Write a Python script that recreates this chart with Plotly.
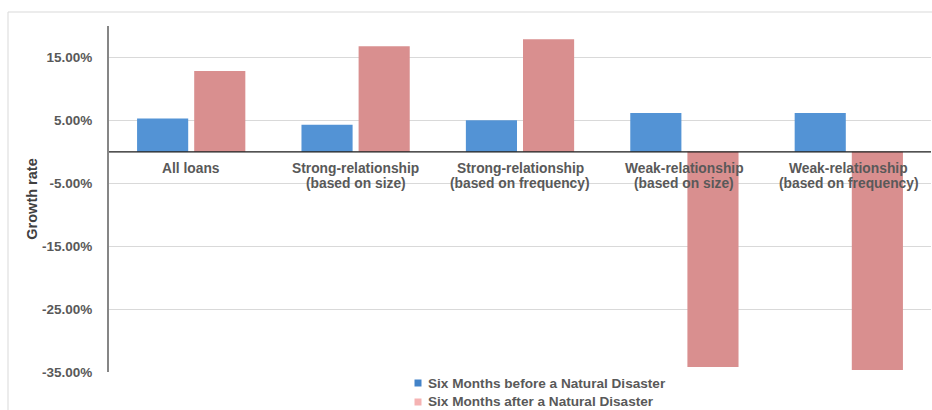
import plotly.graph_objects as go

categories = [
    "All loans",
    "Strong-relationship<br>(based on size)",
    "Strong-relationship<br>(based on frequency)",
    "Weak-relationship<br>(based on size)",
    "Weak-relationship<br>(based on frequency)",
]
before_disaster = [5.28, 4.32, 5.00, 6.17, 6.17]
after_disaster = [12.85, 16.8, 17.9, -34.2, -34.7]
series_names = [
    "Six Months before a Natural Disaster",
    "Six Months after a Natural Disaster",
]
y_ticks = [-35, -25, -15, -5, 5, 15]
y_tick_text = [f"{v:.2f}%" for v in y_ticks]

FONT = "Liberation Sans, Arial, sans-serif"
TEXT = "#595959"
BAR_COLORS = ["#5393d5", "#d98f8f"]
KEY_COLORS = ["#4383c8", "#f5b3b3"]

# plot-area geometry in pixels (used for paper-space placement)
W, H = 932, 410
L, R, T, B = 109, 1, 26, 38
PW, PH = W - L - R, H - T - B


def px_x(px):
    return (px - L) / PW


def px_y(py):
    return (H - B - py) / PH


fig = go.Figure()
for vals, col, name in zip([before_disaster, after_disaster], BAR_COLORS, series_names):
    fig.add_trace(go.Bar(
        x=categories, y=vals, name=name, showlegend=False,
        marker=dict(color=col, line=dict(width=0)),
    ))

# category labels sit just under the zero line, inside the plot;
# each line is placed separately to keep the line spacing tight
for cat in categories:
    for j, line in enumerate(cat.split("<br>")):
        fig.add_annotation(
            x=cat, y=0, xref="x", yref="y", text=line,
            showarrow=False, yanchor="middle", yshift=-16.5 - 15.5 * j,
            font=dict(family=FONT, size=13.8, color=TEXT, weight="bold"),
        )

# key below the plot: small colour square followed by the series name
for i, (name, col) in enumerate(zip(series_names, KEY_COLORS)):
    cy = 383 + 19 * i
    fig.add_shape(type="rect", xref="paper", yref="paper",
                  x0=px_x(414.5), x1=px_x(421.5),
                  y0=px_y(cy - 3.5), y1=px_y(cy + 3.5),
                  fillcolor=col, line=dict(width=0), layer="above")
    fig.add_annotation(
        x=px_x(426.5), y=px_y(cy), xref="paper", yref="paper", text=name,
        showarrow=False, xanchor="left", yanchor="middle", borderpad=0,
        font=dict(family=FONT, size=13.6, color=TEXT, weight="bold"),
    )

# zero line drawn over the bars
fig.add_shape(type="line", xref="paper", yref="y", x0=0, x1=1, y0=0, y1=0,
              line=dict(color="#1a1a1a", width=1.2), layer="above")

# light frame around the whole chart
fig.add_shape(type="rect", xref="paper", yref="paper",
              x0=px_x(8), x1=1.2, y0=px_y(12), y1=-0.3,
              line=dict(color="#d9d9d9", width=1), layer="below")

fig.update_layout(
    width=W, height=H,
    margin=dict(l=L, r=R, t=T, b=B),
    paper_bgcolor="white", plot_bgcolor="white",
    barmode="group", bargap=0.305, bargroupgap=0.105,
    font=dict(family=FONT, color=TEXT),
    showlegend=False,
    xaxis=dict(showticklabels=False, showgrid=False, showline=False,
               zeroline=False, ticks=""),
    yaxis=dict(
        range=[-35, 20], tickmode="array", tickvals=y_ticks,
        ticktext=y_tick_text,
        tickfont=dict(family=FONT, size=13.5, color=TEXT, weight="bold"),
        showgrid=True, gridcolor="#d9d9d9", gridwidth=1,
        zeroline=False, showline=True, linecolor="#868686", linewidth=2,
        ticks="", ticklabelstandoff=12,
        title=dict(text="Growth rate", standoff=1,
                   font=dict(family=FONT, size=14.5, color="#404040",
                             weight="bold")),
    ),
)

fig.write_html("out.html")
